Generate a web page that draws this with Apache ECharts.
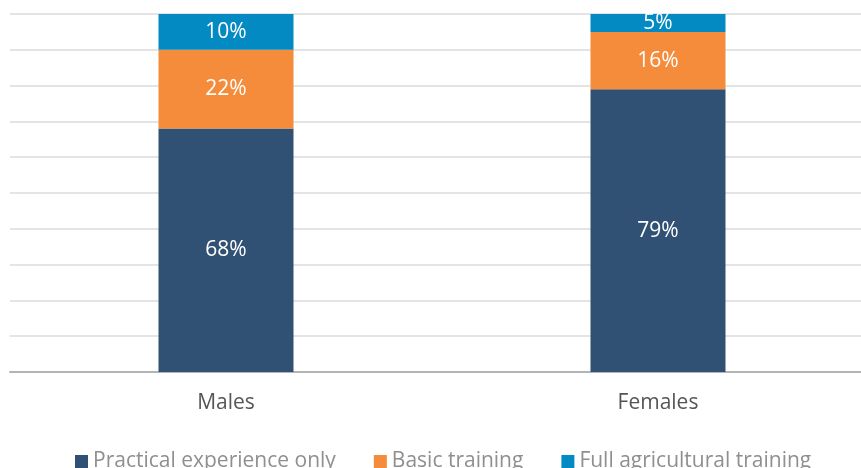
<!DOCTYPE html>
<html>
<head>
<meta charset="utf-8">
<script src="https://cdn.jsdelivr.net/npm/echarts@6/dist/echarts.min.js"></script>
<style>
  html, body { margin: 0; padding: 0; background: #fff; overflow: hidden; }
  /* plot runs past the right edge of the window in the original */
  #main { width: 874px; height: 468px; }
</style>
</head>
<body>
<div id="main"></div>
<script>
var categories = ['Males', 'Females'];
var practicalOnly = [68, 79];
var basicTraining = [22, 16];
var fullTraining = [10, 5];
var seriesNames = ['Practical experience only', 'Basic training', 'Full agricultural training'];

var font = 'Open Sans';

function barSeries(name, data, color) {
    return {
        name: name,
        type: 'bar',
        stack: 'total',
        data: data,
        barWidth: 135,
        itemStyle: { color: color },
        label: {
            show: true,
            position: 'inside',
            formatter: '{c}%',
            color: '#fff',
            fontSize: 21,
            fontFamily: font
        }
    };
}

var chart = echarts.init(document.getElementById('main'));
var option = {
    animation: false,
    grid: { left: 10, right: 0, top: 14, bottom: 96 },
    legend: {
        data: seriesNames,
        left: 70,
        top: 446,
        itemWidth: 13,
        itemHeight: 13,
        itemGap: 38,
        icon: 'rect',
        textStyle: { color: '#8f8f8f', fontSize: 21, fontFamily: font }
    },
    xAxis: {
        type: 'category',
        data: categories,
        axisLine: { lineStyle: { color: '#b4b4b4', width: 2 } },
        axisTick: { show: false },
        axisLabel: { color: '#555', fontSize: 21, fontFamily: font, margin: 21 }
    },
    yAxis: {
        type: 'value',
        min: 0,
        max: 100,
        interval: 10,
        axisLine: { show: false },
        axisTick: { show: false },
        axisLabel: { show: false },
        splitLine: { lineStyle: { color: '#e4e4e4', width: 2 } }
    },
    series: [
        barSeries(seriesNames[0], practicalOnly, '#305173'),
        barSeries(seriesNames[1], basicTraining, '#f58c3b'),
        barSeries(seriesNames[2], fullTraining, '#048ac3')
    ]
};
chart.setOption(option);
</script>
</body>
</html>
